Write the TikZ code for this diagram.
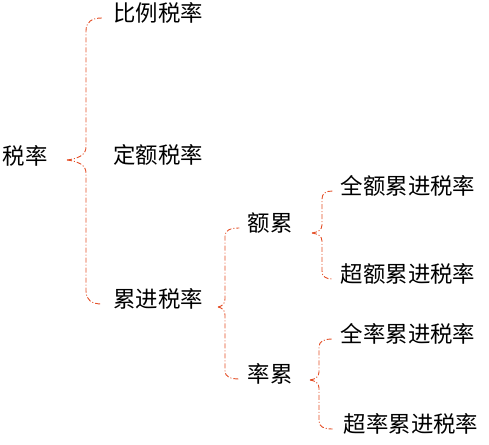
\documentclass[tikz,border=0pt]{standalone}
\usepackage{fontspec}
\newfontfamily\cjk{Noto Sans CJK SC}
\usetikzlibrary{calc}
\definecolor{bracered}{RGB}{228,78,38}
\tikzset{
  lbl/.style={font=\cjk\fontsize{22.5}{25}\selectfont, inner sep=0pt, text height=0.86em, text depth=0.14em, anchor=center},
  brace/.style={draw=bracered, line width=0.9bp, dash pattern=on 5bp off 2bp on 1bp off 2bp}
}
\newcommand\bracepart[4]{%
  \draw[brace] let \p1=(#1), \p2=(#2) in
    (\p1) .. controls ({\x1+0.55*(#3)},{\y1+0.1*(#4)}) and ({\x1+(#3)},{\y1+0.35*(#4)}) .. ({\x1+(#3)},{\y1+(#4)})
    -- ({\x1+(#3)},{\y2-(#4)})
    .. controls ({\x1+(#3)},{\y2-0.3*(#4)}) and ({\x1+(#3)+0.35*(\x2-\x1-(#3))},\y2) .. (\p2);}
\begin{document}
\begin{tikzpicture}[x=1bp,y=-1bp]
\useasboundingbox (0,0) rectangle (489,445);
\node[lbl] (root) at (25,161) {税率};
\node[lbl] (c1) at (158,18) {比例税率};
\node[lbl] (c2) at (158,160) {定额税率};
\node[lbl] (c3) at (158,304) {累进税率};
\node[lbl] (d1) at (270,228) {额累};
\node[lbl] (d2) at (270,379) {率累};
\node[lbl] (e1) at (408,191) {全额累进税率};
\node[lbl] (e2) at (408,279) {超额累进税率};
\node[lbl] (f1) at (408,339) {全率累进税率};
\node[lbl] (f2) at (411,429) {超率累进税率};
\coordinate (t1) at (67,160);
\coordinate (t2) at (218,307);
\coordinate (t3) at (312,233);
\coordinate (t4) at (310,380);
% brace 1
\bracepart{t1}{[xshift=-11bp]c1.west}{19bp}{13bp}
\bracepart{t1}{[xshift=-11bp]c3.west}{19bp}{-13bp}
% brace 2
\bracepart{t2}{[xshift=-8bp]d1.west}{7bp}{8bp}
\bracepart{t2}{[xshift=-8bp]d2.west}{7bp}{-8bp}
% brace 3
\bracepart{t3}{[xshift=-8bp]e1.west}{10bp}{8bp}
\bracepart{t3}{[xshift=-8bp]e2.west}{10bp}{-8bp}
% brace 4
\bracepart{t4}{[xshift=-8bp]f1.west}{9bp}{8bp}
\bracepart{t4}{[xshift=-11bp]f2.west}{9bp}{-8bp}
\end{tikzpicture}
\end{document}
